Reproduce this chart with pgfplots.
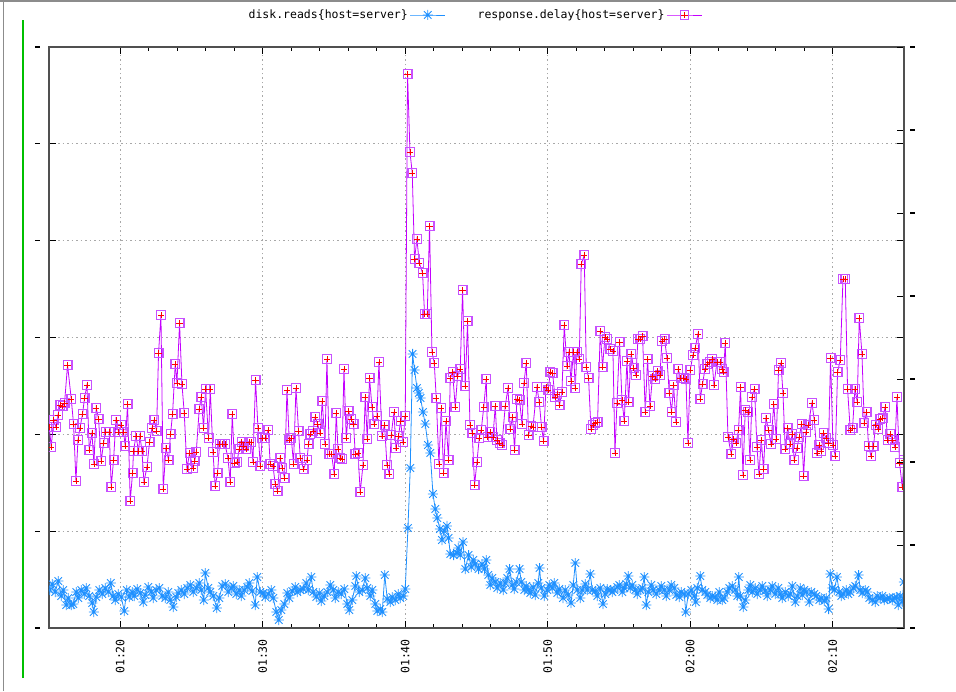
\documentclass[border=0pt]{standalone}
\usepackage{fontspec}
\usepackage{pgfplots}
\usepackage{pgfplotstable}
\pgfplotsset{compat=1.18}
\newfontfamily\gpfont{DejaVu Sans Mono}
\definecolor{readsblue}{HTML}{1E90FF}
\definecolor{delaypurple}{HTML}{C400FF}
\definecolor{markpurple}{HTML}{C850FF}
\definecolor{gridgray}{HTML}{A8A8A8}
\definecolor{axisgray}{HTML}{505050}
\definecolor{framegray}{HTML}{8C8C8C}
\definecolor{sidegreen}{HTML}{00C000}

% 8-arm asterisk, like gnuplot's point type 3
\pgfdeclareplotmark{star8}{%
  \pgfpathmoveto{\pgfqpoint{-\pgfplotmarksize}{0pt}}%
  \pgfpathlineto{\pgfqpoint{\pgfplotmarksize}{0pt}}%
  \pgfpathmoveto{\pgfqpoint{0pt}{-\pgfplotmarksize}}%
  \pgfpathlineto{\pgfqpoint{0pt}{\pgfplotmarksize}}%
  \pgfpathmoveto{\pgfqpoint{-0.75\pgfplotmarksize}{-0.75\pgfplotmarksize}}%
  \pgfpathlineto{\pgfqpoint{0.75\pgfplotmarksize}{0.75\pgfplotmarksize}}%
  \pgfpathmoveto{\pgfqpoint{-0.75\pgfplotmarksize}{0.75\pgfplotmarksize}}%
  \pgfpathlineto{\pgfqpoint{0.75\pgfplotmarksize}{-0.75\pgfplotmarksize}}%
  \pgfusepathqstroke}

% x = time position (01:15 .. 02:15), y = reading
\pgfplotstableread{
x y
49.5 38
52 44
55 36
58 47
61 32
63 38
66 23
68 30
71 23
73 24
76 36
78 30
81 38
84 34
86 40
89 32
92 25
93.5 16
96 31
99 38
102 34
105 40
108 36
110.5 45
113 32
115 28
118 34
121 31
124 17
126.5 38
129 31
132 36
134 32
137 39
140 35
143 26
145 33
148 41
151 36
153 30
156 38
159 40
162 32
165 30
168 36
170 28
173 21
176 31
178 35
181 38
184 34
187 40
190 43
193 36
196 40
199 45
201 38
203.5 28
205 55
208 40
210 36
213 32
216.5 20
219 30
222 42
225 44
228 36
231 40
233 42
236 34
239 38
241 32
244 38
247 41
249 45
252 37
255 23
257 51
260 36
263 35
265 31
268 34
271 38
273 30
276 16
278.5 8
281 18
284 24
287 35
289 30
292 37
295 41
297 36
300 38
303 39
306 45
308 38
311 51
313 36
316 31
319 35
321 27
324 32
327 36
330 43
333 38
335 30
338 36
341 34
344 39
347 24
349 18
352 28
355 42
356 52
359 36
362 38
365 50
367 40
370 32
372 38
375 24
377 17
380 19
382 16
384.5 53
387 29
390 26
392 31
395 28
398 34
400 30
403 32
405 39
407.7 100
410 160
412.3 274
414.3 258
416.7 240
418.5 235
420.3 230
422.7 216
425 204
427.7 183
430 175
432.7 134
435 119
437 110
439.7 99
441.7 88
444 97
446.7 102
448.3 90
450 74
453.3 73
456.7 75
458 80
460 73
462.7 86
465 59
468.3 73
471 61
473 68
475 64
478.3 59
481.7 64
484.3 59
486 68
488 53
490 43
492 50
495 46
497 40
500 45
503 38
505 45
507 50
509.3 59
512 43
514 39
516 46
519.3 59
521 46
524 38
526 42
528 38
530 35
533 41
535 33
538 45
539.3 60
541 40
544 32
547 38
549 43
552 40
554 45
557 35
559 39
562.7 30
565 38
568 33
570.7 25
573 43
575 65
577 38
580 30
582 38
585 44
587 38
590 54
592 38
595 37
597 32
600 40
602.7 24
605 34
607 39
610 38
612 36
614 38
617 41
619 43
622 36
624 40
626 44
628 52
630 40
632 43
635 38
637 34
640 38
642 40
644 51
646 23
648 36
651 43
653 38
656 34
659 38
661 42
664 38
666 32
669 38
671 43
674 40
676 33
679 31
681 36
684 34
685.5 16
688 34
691 38
694 32
695.5 26
697 40
700 52
702 38
705 36
707 33
710 30
712 32
715 31
717 28
719 36
722 28
724 30
727 36
729 40
732 42
735 38
737 32
738.5 51
740 32
743 21
745 28
748 38
750 43
752 36
755 40
757 34
760 38
762 42
765 37
767 32
770 38
772 42
775 34
778 40
780 34
782 30
785 36
788 32
790 34
792 42
795 26
797 32
800 40
802 33
804 38
806 36
809 26
811 36
814 34
816 32
819 28
821 30
824 27
826 30
828.3 19
830 54
832 40
834 38
836.7 51
839 36
841 32
843 34
846 38
848 34
850 36
853 40
855 42
858.3 53
860 38
862 35
865 38
867 36
869 30
872 28
875 26
877 32
880 30
882 32
884 28
887 29
889 30
892 28
894 30
896 31
898 23
900 32
902 26
903.5 46
}\readstable

\pgfplotstableread{
x y
49 201
51 181
53.3 208
55.7 201
57.7 213
60 223
62.3 222
64.3 225
67.3 263
71 229
73.3 204
75.7 147
77.7 188
79.7 200
82.3 214
84.3 230
86.7 243
89 178
91.7 195
93.7 164
96 220
98.3 209
101 167
103.3 185
105.3 196
109 196
111 141
113.3 168
115.7 208
118.3 196
121 203
123.3 196
125 182
127.3 224
130 127
132.3 155
133.3 177
135.7 192
138.3 177
139.7 192
141.7 177
143.7 146
146.7 161
149.3 186
151.7 200
154 208
156.3 197
158.3 275
160.7 313
163 139
165.7 180
168.3 168
170.3 194
172.3 214
175 264
176.7 245
179.3 305
181.7 244
184 215
186.7 159
189.3 175
192.7 160
194.5 167
196 176
199 219
201 231
203.3 200
205.3 239
208.3 190
210 239
212.7 176
215 142
217.3 155
219.3 184
222 184
224.7 184
227.7 170
230 146
232 214
234.3 165
236.7 166
239 179
241.3 186
243.3 182
246 179
248.7 186
251 186
252.7 166
255.3 248
257.7 200
260 162
262 190
265 190
268 198
270 164
272.7 162
275 144
277.3 137
280 170
282 160
284.3 150
286.7 238
289 188
291 190
293.3 164
295.7 240
298.3 197
300 170
303.3 159
306.7 168
308.3 184
310 194
312.7 197
315 211
317.3 204
320 195
322 227
324.7 184
326.7 269
329 174
331.3 174
334 154
336 215
337.7 179
340 170
341.7 169
343.7 259
346 190
348.3 217
350.7 209
353.3 204
355 174
357.7 175
360 136
362.7 163
365 231
367 189
369.3 250
371.7 221
374 204
376.7 212
378.7 266
381.7 192
384.3 203
386.7 163
389 154
391 193
393.7 216
395.7 180
398.3 192
400.3 207
402.7 186
405 212
407.3 554
409.7 476
412 455
414.3 369
416.7 389
419 365
422.3 355
424.3 314
427 314
429.3 402
431.7 276
434 265
436 230
438.7 164
441 220
443.3 155
445.7 207
448.3 168
450 250
452.3 256
455 221
457.3 252
460 259
462.3 338
465 242
467.3 307
469.7 203
472 195
474.3 143
476.7 166
479 190
481 198
483.5 221
486 249
487.3 191
490 196
492.7 191
495 222
496.7 188
499.3 185
501.7 183
505 222
507.7 240
510 199
512.3 211
514.3 178
516.7 229
519.3 228
521.7 204
523.7 245
526 265
528.3 193
530.7 202
532.7 201
536.7 241
539 226
541.3 201
543.3 187
545.7 241
548 238
550 256
552.3 255
554.7 231
557 234
559.3 223
561.7 236
564 303
566.7 262
568.7 276
570.7 247
573.3 276
575 240
576.7 276
579 269
581 364
584 373
586 261
588.3 250
590.7 199
592.7 203
595 205
597.3 206
600 297
602.3 261
604.7 291
606.7 289
610 279
612.7 277
614.7 175
616.7 225
619.3 286
621.7 228
624 207
626.7 267
628.3 226
631 274
633.3 260
635.7 253
637.7 289
640 289
642.3 292
645 216
647.3 269
649.7 222
652.3 252
655 249
657.3 257
659.7 253
661.7 287
664.3 289
666.7 270
669 235
671.3 216
673.3 243
675.7 206
678 259
680.3 250
683.3 250
685.7 249
687.7 185
690 258
692.7 273
695 280
697.7 294
700 229
702.3 244
704.7 259
707 264
709.3 266
711.7 269
713.7 243
716.7 266
719.7 266
721.7 259
723.3 256
725 285
727.7 191
731 174
733.3 189
735.7 185
738.3 198
740.3 241
742.7 153
745 218
747.7 216
749.7 168
751.7 231
754.3 239
756.7 181
758.7 154
761 188
763.3 159
765.7 210
768.3 198
770.7 184
773.5 224
776 189
778.3 258
780.7 265
782.7 235
785 179
787.3 200
790 184
792 194
794 168
796.7 180
799 191
801.3 204
803.3 152
805.7 196
808 203
811.7 225
814 208
816.7 175
819 183
821 177
823.3 195
826 190
828.3 185
830.3 270
832.7 183
835 172
837.3 256
840 268
842.7 349
845 349
847.3 239
850 198
852.3 200
854.7 239
857 226
859 310
861.7 274
864 205
866.3 216
868.3 182
870.7 172
873.3 182
875.3 203
877.7 199
880 209
882.3 210
885 221
887.3 188
890 194
892.3 188
894.7 181
896.7 231
899.3 165
902 141
903.7 168
}\delaytable

\pgfplotsset{
  gpbox/.style={
    scale only axis,
    width=855pt,
    height=581pt,
    xmin=48.75, xmax=903.75,
    tick align=inside,
    major tick length=7pt,
    minor tick length=4pt,
    every tick/.style={black, line width=1pt},
    axis line style={axisgray, line width=1.2pt},
  },
}

\begin{document}
\begin{tikzpicture}[x=1pt,y=1pt]
\useasboundingbox (-49,-63) rectangle (907,628);
\draw[framegray, line width=1pt] (-45.5,-63) -- (-45.5,628);
\draw[framegray, line width=2.5pt] (-49,627) -- (907,627);
\draw[sidegreen, line width=2.5pt] (-26,-50) -- (-26,608);

\begin{axis}[
  gpbox,
  at={(0,0)}, anchor=south west,
  ymin=0, ymax=581,
  clip marker paths=true,
  xtick={120,262.5,405,547.5,690,832.5},
  xticklabels={01:20,01:30,01:40,01:50,02:00,02:10},
  minor x tick num=4,
  ytick={0,96.83,193.67,290.5,387.33,484.17,581},
  yticklabel={\rule{5pt}{1.3pt}},
  ytick pos=both,
  yticklabel pos=left,
  yticklabel style={anchor=east, inner sep=0pt, xshift=-9pt},
  xticklabel style={rotate=90, anchor=east, xshift=-11pt, inner sep=0pt,
    font=\gpfont\fontsize{11.5}{13}\selectfont},
  grid=major,
  major grid style={gridgray, line width=0.9pt, dash pattern=on 1.5pt off 3pt},
  legend columns=2,
  legend plot pos=right,
  legend style={draw=none, fill=none, at={(0.5,1)}, anchor=center,
    yshift=32pt, xshift=-2pt,
    font=\gpfont\fontsize{11.5}{13}\selectfont,
    /tikz/every even column/.append style={column sep=30pt}},
  legend image code/.code={%
    \draw[mark repeat=2, mark phase=2] plot coordinates {(0pt,0pt) (17.5pt,0pt) (35pt,0pt)};},
]
\addplot[readsblue, line width=0.8pt, mark=star8, mark size=5pt,
  mark options={line width=0.9pt}] table {\readstable};
\addlegendentry{disk.reads\{host=server\}}

\addplot[delaypurple, line width=0.8pt, mark=square, mark size=4.3pt,
  mark options={draw=markpurple, solid, line width=1.3pt},
  legend image code/.code={%
    \draw[mark repeat=2, mark phase=2] plot coordinates {(0pt,0pt) (17.5pt,0pt) (35pt,0pt)};
    \draw[red, line width=0.7pt] (14.3pt,0pt) -- (20.7pt,0pt) (17.5pt,-3.2pt) -- (17.5pt,3.2pt);}]
  table {\delaytable};
\addlegendentry{response.delay\{host=server\}}

\addplot[red, only marks, mark=+, mark size=3.2pt, mark options={draw=red, line width=0.8pt},
  forget plot] table {\delaytable};
\end{axis}

\begin{axis}[
  gpbox,
  at={(0,0)}, anchor=south west,
  ymin=0, ymax=7,
  axis x line=none,
  axis y line*=right,
  ytick={0,1,2,3,4,5,6,7},
  yticklabel={\rule{5pt}{1.3pt}},
  yticklabel style={anchor=west, inner sep=0pt, xshift=6pt},
]
\end{axis}
\end{tikzpicture}
\end{document}
